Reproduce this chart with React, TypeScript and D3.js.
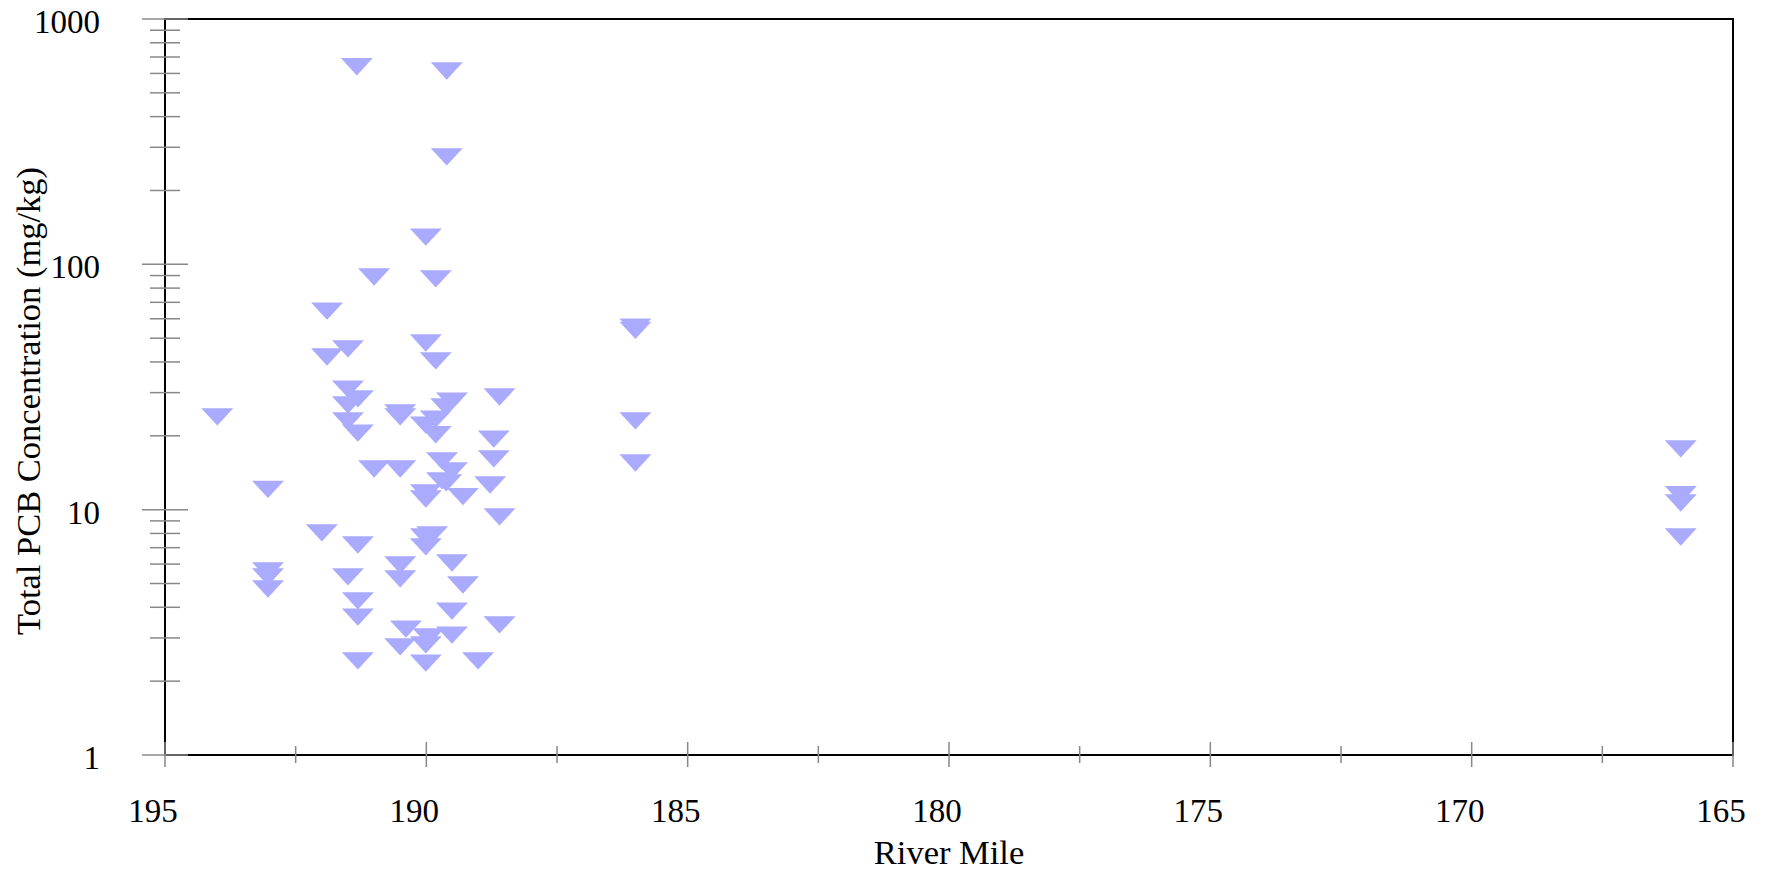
import React from "react";
import * as d3 from "d3";

// River mile of each sample
const riverMile: number[] = [
  191.33, 189.61, 189.61, 190.01,
  191.0, 189.82, 191.9, 191.5, 191.9, 190.01, 189.82, 191.5, 191.31, 191.5,
  191.5, 191.31, 194.0, 190.5, 190.5, 189.51, 189.62, 189.82, 190.01, 189.82,
  188.6, 188.71, 188.71, 191.0, 190.5, 189.7, 189.51, 189.7, 189.62, 190.01,
  190.01, 189.3, 193.03, 188.78, 188.6, 192.0, 191.31, 189.89, 190.01, 190.01,
  190.5, 189.51, 193.03, 193.03, 193.03, 191.5, 190.5, 189.3, 191.31, 191.31,
  189.51, 188.6, 190.39, 189.96, 189.51, 190.5, 190.01, 191.31, 190.01, 189.01,
  186.0, 186.0, 186.0, 186.0,
  166.0, 166.0, 166.0, 166.0,
];

// Total PCB concentration (mg/kg)
const pcbConc: number[] = [
  639, 614, 274, 129,
  88.8, 87.2, 64.5, 45.2, 41.9, 47.8, 40.4, 31.0, 28.3, 26.7,
  23.0, 20.5, 23.9, 24.8, 23.9, 27.7, 26.2, 23.4, 22.1, 20.2,
  28.8, 19.4, 16.1, 14.65, 14.65, 15.8, 14.4, 13.1, 12.85, 11.7,
  11.05, 11.3, 12.1, 12.6, 9.34, 8.04, 7.18, 7.89, 7.74, 7.05,
  5.95, 6.06, 5.63, 5.32, 4.75, 5.32, 5.22, 4.93, 4.25, 3.65,
  3.86, 3.39, 3.26, 3.03, 3.08, 2.76, 2.81, 2.42, 2.37, 2.42,
  55.5, 53.8, 23.0, 15.5,
  17.7, 11.5, 10.65, 7.74,
];

const xMajorTicks: number[] = [195, 190, 185, 180, 175, 170, 165];
const xMinorTicks: number[] = [192.5, 187.5, 182.5, 177.5, 172.5, 167.5];
const yMajorTicks: number[] = [1, 10, 100, 1000];
const yTickLabels: string[] = ["1", "10", "100", "1000"];

const W = 1769;
const H = 870;
const L = 165, R = 1733, T = 19, B = 755;
const FONT = "'Liberation Serif', 'Times New Roman', serif";

export default function App() {
  const x = d3.scaleLinear().domain([195, 165]).range([L, R]);
  const y = d3.scaleLog().domain([1, 1000]).range([B, T]);

  const yMinor: number[] = [];
  [1, 10, 100].forEach((d) => {
    for (let k = 2; k <= 9; k++) yMinor.push(d * k);
  });

  const tw = 16, th = 8.67;
  const tri = (cx: number, cy: number) =>
    `M${cx - tw},${cy - th}L${cx + tw},${cy - th}L${cx},${cy + th}Z`;

  return (
    <svg
      width={W}
      height={H}
      style={{ position: "absolute", left: 0, top: 0, background: "#fff" }}
      fontFamily={FONT}
    >
      <rect x={L} y={T} width={R - L} height={B - T} fill="none" stroke="#000" strokeWidth={2} />
      {/* points */}
      {riverMile.map((m, i) => (
        <path key={i} d={tri(x(m), y(pcbConc[i]))} fill="#aaaaff" />
      ))}
      {/* y ticks */}
      {yMinor.map((v) => (
        <line key={"ym" + v} x1={L - 15} x2={L + 15} y1={y(v)} y2={y(v)} stroke="#888" strokeWidth={1.5} />
      ))}
      {yMajorTicks.map((v, i) => (
        <g key={"yM" + v}>
          <line x1={L - 23} x2={L + 23} y1={y(v)} y2={y(v)} stroke="#888" strokeWidth={1.5} />
          <text x={100} y={y(v) + 14} textAnchor="end" fontSize={33} fill="#000">
            {yTickLabels[i]}
          </text>
        </g>
      ))}
      {/* x ticks */}
      {xMinorTicks.map((v) => (
        <line key={"xm" + v} x1={x(v)} x2={x(v)} y1={B - 9} y2={B + 8} stroke="#888" strokeWidth={1.5} />
      ))}
      {xMajorTicks.map((v) => (
        <g key={"xM" + v}>
          <line x1={x(v)} x2={x(v)} y1={B - 13} y2={B + 12} stroke="#888" strokeWidth={1.5} />
          <text x={x(v) - 12} y={822} textAnchor="middle" fontSize={33} fill="#000">
            {v}
          </text>
        </g>
      ))}
      <text x={(L + R) / 2} y={864} textAnchor="middle" fontSize={34.5} fill="#000">
        River Mile
      </text>
      <text
        transform={`translate(40,401) rotate(-90)`}
        textAnchor="middle"
        fontSize={34.5}
        fill="#000"
      >
        Total PCB Concentration (mg/kg)
      </text>
    </svg>
  );
}
